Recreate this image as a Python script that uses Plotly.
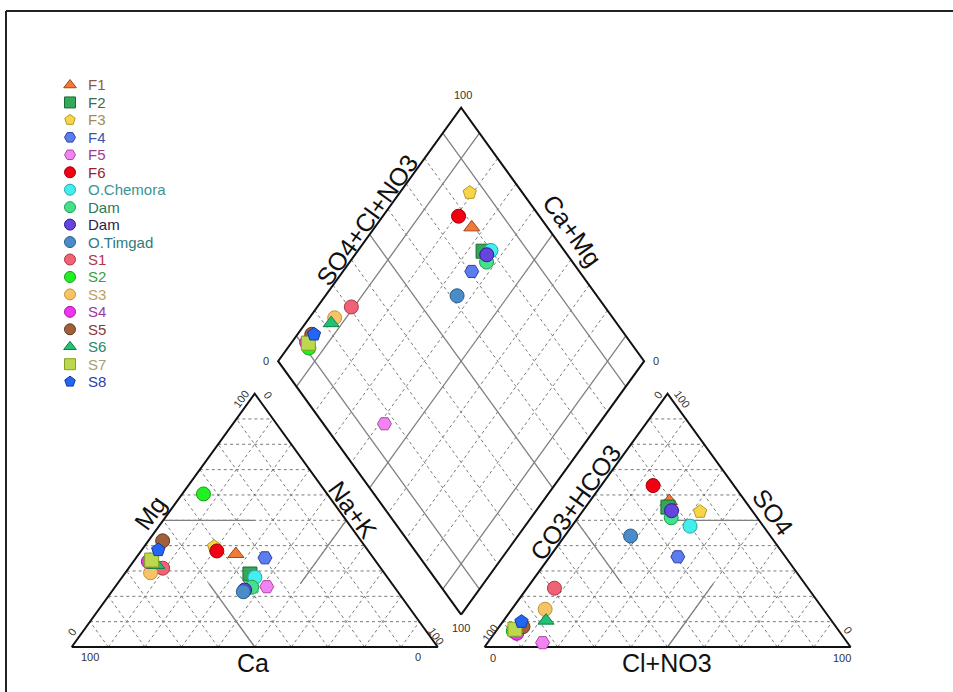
import plotly.graph_objects as go

# ---------------- data (percent of meq) ----------------
names = ["F1", "F2", "F3", "F4", "F5", "F6", "O.Chemora", "Dam", "Dam", "O.Timgad",
         "S1", "S2", "S3", "S4", "S5", "S6", "S7", "S8"]
# cations
ca  = [36.8, 36.9, 41.3, 29.6, 34.8, 41.4, 36.2, 39.0, 41.5, 42.2,
       59.6, 33.8, 63.8, 62.2, 54.2, 60.6, 61.0, 57.2]
mg  = [36.7, 28.8, 39.6, 35.2, 23.8, 37.9, 27.5, 23.6, 22.5, 21.8,
       31.1, 60.4, 29.3, 33.7, 41.9, 32.4, 34.3, 38.3]
nak = [26.5, 34.3, 19.1, 35.2, 41.4, 20.7, 36.3, 37.4, 36.0, 36.0,
       9.3, 5.8, 6.9, 4.1, 3.9, 7.0, 4.7, 4.5]
# anions
hco3 = [20.7, 22.3, 14.4, 29.4, 83.3, 22.1, 20.0, 23.5, 22.0, 38.2,
        69.3, 89.0, 76.0, 88.5, 85.5, 78.0, 88.2, 84.9]
so4  = [57.6, 55.2, 53.4, 35.6, 1.7, 63.7, 47.7, 51.0, 53.8, 43.8,
        23.2, 6.3, 14.9, 5.4, 8.0, 10.4, 7.0, 10.0]
cl   = [21.7, 22.5, 32.2, 35.0, 15.0, 14.2, 32.3, 25.5, 24.2, 18.0,
        7.5, 4.7, 9.1, 6.1, 6.5, 11.6, 4.8, 5.1]

symbols = ["triangle-up", "square", "pentagon", "hexagon2", "hexagon2", "circle",
           "circle", "circle", "circle", "circle",
           "circle", "circle", "circle", "circle", "circle", "triangle-up", "square", "pentagon"]
fill_colors = ["#F07a3a", "#34A85A", "#F6D648", "#5C7CF0", "#F283F2", "#F00012",
               "#44EEEE", "#44E08A", "#6644E0", "#4A8CC8",
               "#F06276", "#22F022", "#F6C466", "#F034F0", "#A0603C", "#22C274", "#BCD84C", "#2266F2"]
line_colors = ["#A04818", "#1C6A34", "#B89A22", "#2A40A8", "#A848A8", "#A00008",
               "#22A8A8", "#18A050", "#2C1C90", "#2A5C8C",
               "#B03448", "#14A014", "#C09434", "#A418A4", "#643818", "#108048", "#84A024", "#1238A8"]
text_colors = ["#8B5A40", "#3A6B4A", "#A08C50", "#3E56A8", "#9A3E8C", "#9A2030",
               "#3A9494", "#2E7A55", "#2A2050", "#2E7A80",
               "#B03848", "#3AA040", "#C0A060", "#9A3A9A", "#8A3A3A", "#2A8A6A", "#A8A070", "#3040B0"]

# ---------------- geometry ----------------
H = 3 ** 0.5 / 2
G = 12.8
OFF = 100 + G


def cat_xy(c, m, n):
    return n + m / 2, m * H


def an_xy(h, s, c):
    return OFF + c + s / 2, s * H


def dia_xy(n, h):
    return 100 + G / 2 + 0.5 * (n - h), G * H + H * (200 - n - h)


def add_seg(store, p, q):
    store[0].extend([p[0], q[0], None])
    store[1].extend([p[1], q[1], None])


dashed = ([], [])
solid = ([], [])
outline = ([], [])

for k in range(10, 100, 10):
    add_seg(dashed, cat_xy(100 - k, k, 0), cat_xy(0, k, 100 - k))
    add_seg(dashed, cat_xy(k, 0, 100 - k), cat_xy(k, 100 - k, 0))
    add_seg(dashed, cat_xy(100 - k, 0, k), cat_xy(0, 100 - k, k))
    add_seg(dashed, an_xy(100 - k, k, 0), an_xy(0, k, 100 - k))
    add_seg(dashed, an_xy(k, 0, 100 - k), an_xy(k, 100 - k, 0))
    add_seg(dashed, an_xy(100 - k, 0, k), an_xy(0, 100 - k, k))
    if k in (10, 50, 90):
        add_seg(solid, dia_xy(k, 0), dia_xy(k, 100))
        add_seg(solid, dia_xy(0, k), dia_xy(100, k))
    else:
        add_seg(dashed, dia_xy(k, 0), dia_xy(k, 100))
        add_seg(dashed, dia_xy(0, k), dia_xy(100, k))

# facies half-lines in the triangles
add_seg(solid, cat_xy(50, 50, 0), cat_xy(25, 50, 25))
add_seg(solid, cat_xy(50, 0, 50), cat_xy(50, 25, 25))
add_seg(solid, cat_xy(0, 50, 50), cat_xy(25, 25, 50))
add_seg(solid, an_xy(0, 50, 50), an_xy(25, 50, 25))
add_seg(solid, an_xy(50, 50, 0), an_xy(50, 25, 25))
add_seg(solid, an_xy(50, 0, 50), an_xy(25, 25, 50))

for poly in ([cat_xy(100, 0, 0), cat_xy(0, 0, 100), cat_xy(0, 100, 0)],
             [an_xy(100, 0, 0), an_xy(0, 0, 100), an_xy(0, 100, 0)],
             [dia_xy(100, 100), dia_xy(0, 100), dia_xy(0, 0), dia_xy(100, 0)]):
    xs = [p[0] for p in poly] + [poly[0][0], None]
    ys = [p[1] for p in poly] + [poly[0][1], None]
    outline[0].extend(xs)
    outline[1].extend(ys)

fig = go.Figure()
fig.add_trace(go.Scatter(x=dashed[0], y=dashed[1], mode="lines", hoverinfo="skip",
                         line=dict(color="#7a7a7a", width=1, dash="3px,3px"), showlegend=False))
fig.add_trace(go.Scatter(x=solid[0], y=solid[1], mode="lines", hoverinfo="skip",
                         line=dict(color="#808080", width=1.3), showlegend=False))
fig.add_trace(go.Scatter(x=outline[0], y=outline[1], mode="lines", hoverinfo="skip",
                         line=dict(color="#111111", width=2), showlegend=False))

for i, nm in enumerate(names):
    t = ca[i] + mg[i] + nak[i]
    a = hco3[i] + so4[i] + cl[i]
    c_, m_, n_ = 100 * ca[i] / t, 100 * mg[i] / t, 100 * nak[i] / t
    h_, s_, l_ = 100 * hco3[i] / a, 100 * so4[i] / a, 100 * cl[i] / a
    p1 = cat_xy(c_, m_, n_)
    p2 = an_xy(h_, s_, l_)
    p3 = dia_xy(n_, h_)
    fig.add_trace(go.Scatter(
        x=[p1[0], p2[0], p3[0]], y=[p1[1], p2[1], p3[1]], mode="markers", name=nm,
        marker=dict(symbol=symbols[i], size=14, color=fill_colors[i],
                    line=dict(color=line_colors[i], width=1)),
        showlegend=False))

# ---------------- manual legend (pixel frame) ----------------
LX, LY0, LDY = 70, 85, 17.45
leg_y = [LY0 + LDY * i for i in range(len(names))]
fig.add_trace(go.Scatter(
    x=[LX] * len(names), y=leg_y, mode="markers", xaxis="x2", yaxis="y2",
    marker=dict(symbol=symbols, size=11, color=fill_colors,
                line=dict(color=line_colors, width=1)),
    hoverinfo="skip", showlegend=False))

W, HH = 953, 692
ann = []
for i, nm in enumerate(names):
    ann.append(dict(x=87 / W, y=1 - leg_y[i] / HH, xref="paper", yref="paper", text=nm,
                    showarrow=False, xanchor="left", yanchor="middle", borderpad=0,
                    font=dict(size=15, color=text_colors[i], family="Liberation Sans, Arial")))

ANG = 54.2
small = [
    ("100", 90, 657, 0), ("0", 418, 657, 0), ("0", 72, 632, -ANG), ("100", 241, 399, -ANG),
    ("0", 268, 395, ANG), ("100", 436, 636, ANG),
    ("0", 493, 658, 0), ("100", 842, 658, 0), ("100", 490, 633, -ANG), ("0", 658, 395, -ANG),
    ("100", 682, 399, ANG), ("0", 848, 630, ANG),
    ("100", 463, 95, 0), ("0", 266, 361, 0), ("0", 656, 361, 0), ("100", 461, 628, 0),
]
for txt, x, y, ang in small:
    ann.append(dict(x=x / W, y=1 - y / HH, xref="paper", yref="paper", text=txt, textangle=ang,
                    showarrow=False, xanchor="center", yanchor="middle",
                    font=dict(size=11, color="#333333", family="Liberation Sans, Arial")))

titles = [
    ("Ca", 253, 663, 0), ("Cl+NO3", 667, 663, 0), ("Mg", 150, 513, -ANG), ("Na+K", 353, 510, ANG),
    ("CO3+HCO3", 575, 503, -ANG), ("SO4", 773, 512, ANG),
    ("SO4+Cl+NO3", 367, 220, -ANG), ("Ca+Mg", 572, 230, ANG),
]
for txt, x, y, ang in titles:
    ann.append(dict(x=x / W, y=1 - y / HH, xref="paper", yref="paper", text=txt, textangle=ang,
                    showarrow=False, xanchor="center", yanchor="middle",
                    font=dict(size=25, color="#111111", family="Liberation Sans, Arial")))

shapes = [
    dict(type="line", xref="paper", yref="paper", x0=6 / W, x1=1.01, y0=1 - 11 / HH, y1=1 - 11 / HH,
         line=dict(color="#222222", width=2)),
    dict(type="line", xref="paper", yref="paper", x0=6 / W, x1=6 / W, y0=1 - 11 / HH, y1=-0.01,
         line=dict(color="#222222", width=2)),
]

fig.update_layout(
    width=W, height=HH, margin=dict(l=0, r=0, t=0, b=0),
    paper_bgcolor="white", plot_bgcolor="white",
    xaxis=dict(range=[-71.7 / 3.66, (W - 71.7) / 3.66], visible=False, fixedrange=True),
    yaxis=dict(range=[(647 - HH) / 2.926, 647 / 2.926], visible=False, fixedrange=True),
    xaxis2=dict(range=[0, W], overlaying="x", visible=False, fixedrange=True),
    yaxis2=dict(range=[HH, 0], overlaying="y", visible=False, fixedrange=True),
    annotations=ann, shapes=shapes, showlegend=False,
)

fig.write_html("out.html", config={"displayModeBar": False},
               post_script="document.body.style.margin='0px';document.body.style.padding='0px';")
